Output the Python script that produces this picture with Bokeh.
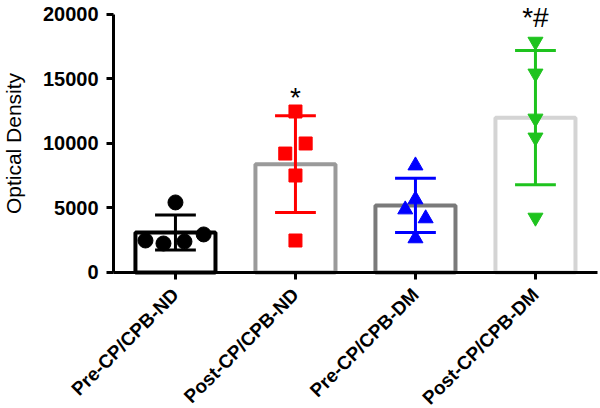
import numpy as np
from bokeh.plotting import figure
from bokeh.models import Range1d, FixedTicker, Label, CustomLabelingPolicy
from bokeh.embed import file_html
from bokeh.resources import INLINE

# ---- data ----
categories = ["Pre-CP/CPB-ND", "Post-CP/CPB-ND", "Pre-CP/CPB-DM", "Post-CP/CPB-DM"]
bar_means = [3100, 8400, 5200, 12000]
bar_sd = [1350, 3750, 2100, 5200]
pts_pre_nd = [5430, 2480, 2250, 2400, 2950]
pts_post_nd = [12480, 10000, 9220, 7520, 2480]
pts_pre_dm = [8290, 5660, 4880, 4190, 2640]
pts_post_dm = [17900, 15430, 11940, 10470, 4260]
jitter_pre_nd = [0.0, -0.25, -0.1, 0.075, 0.235]
jitter_post_nd = [0.0, 0.085, -0.085, 0.0, 0.0]
jitter_pre_dm = [0.0, 0.0, -0.085, 0.085, 0.0]
jitter_post_dm = [0.0, 0.0, 0.0, 0.0, 0.0]
significance = ["", "*", "", "*#"]
significance_y = [0, 13600, 0, 19750]
y_ticks = [0, 5000, 10000, 15000, 20000]
y_title = "Optical Density"

bar_colors = ["#000000", "#9a9a9a", "#7a7a7a", "#d4d4d4"]
pt_colors = ["#000000", "#ff0000", "#0000ff", "#1ec31e"]

FONT = "Liberation Sans"
Y_AXIS_X = -0.516          # where the value axis stands on the category scale
X_AXIS_END = 3.517
HIDE = "for (const i of indices) { indices.unset(i) } return indices"

p = figure(width=600, height=408, output_backend="svg", toolbar_location=None,
           x_range=Range1d(-1.458, 3.542), y_range=Range1d(-10543, 21085),
           x_axis_location="above", y_axis_location="right",
           min_border_left=0, min_border_right=0, min_border_top=0,
           min_border_bottom=0)
p.outline_line_color = None
p.grid.visible = False
p.background_fill_color = "white"
p.border_fill_color = "white"

xs = list(range(len(categories)))

# bars (outlined)
p.vbar(x=xs, top=bar_means, width=0.667, bottom=0, fill_color="white",
       line_color=bar_colors, line_width=4)

# error bars (mean +/- SD)
lower = [m - s for m, s in zip(bar_means, bar_sd)]
upper = [m + s for m, s in zip(bar_means, bar_sd)]
p.segment(x0=xs, x1=xs, y0=lower, y1=upper, line_color=pt_colors, line_width=3)
cap_x0 = [i - 0.17 for i in xs]
cap_x1 = [i + 0.17 for i in xs]
p.segment(x0=cap_x0, x1=cap_x1, y0=lower, y1=lower, line_color=pt_colors, line_width=3)
p.segment(x0=cap_x0, x1=cap_x1, y0=upper, y1=upper, line_color=pt_colors, line_width=3)

# points
p.scatter([0 + j for j in jitter_pre_nd], pts_pre_nd, marker="circle", size=15,
          fill_color=pt_colors[0], line_color=pt_colors[0])
p.scatter([1 + j for j in jitter_post_nd], pts_post_nd, marker="square", size=13,
          fill_color=pt_colors[1], line_color=pt_colors[1])
p.scatter([2 + j for j in jitter_pre_dm], pts_pre_dm, marker="triangle", size=15,
          fill_color=pt_colors[2], line_color=pt_colors[2])
p.scatter([3 + j for j in jitter_post_dm], pts_post_dm, marker="inverted_triangle", size=15,
          fill_color=pt_colors[3], line_color=pt_colors[3])

# significance marks
for i, s in enumerate(significance):
    if s:
        p.add_layout(Label(x=i, y=significance_y[i], text=s, text_align="center",
                           text_baseline="alphabetic", text_font=FONT,
                           text_font_size="28px", text_color="#000000"))


def style_axis(ax):
    ax.major_label_text_font_size = "0px"
    ax.major_label_standoff = 0
    ax.major_label_policy = CustomLabelingPolicy(code=HIDE)
    ax.minor_tick_in = 0
    ax.minor_tick_out = 0
    ax.minor_tick_line_color = None
    ax.major_tick_in = 7       # toward the plot side = outward from the drawn axis
    ax.major_tick_out = 0
    ax.major_tick_line_width = 3
    ax.axis_line_width = 3
    ax.axis_line_color = "#000000"
    ax.major_tick_line_color = "#000000"
    ax.axis_label = None
    ax.axis_label_standoff = 0


# category axis standing at y = 0
xa = p.xaxis[0]
xa.fixed_location = 0
xa.ticker = FixedTicker(ticks=xs)
xa.bounds = (Y_AXIS_X, X_AXIS_END)
style_axis(xa)
for i, c in enumerate(categories):
    p.add_layout(Label(x=i, y=0, text=c, angle=np.pi / 4, text_align="right",
                       text_baseline="middle", x_offset=0, y_offset=-19,
                       text_font=FONT, text_font_style="bold",
                       text_font_size="19px", text_color="#000000"))

# value axis
ya = p.yaxis[0]
ya.fixed_location = Y_AXIS_X
ya.ticker = FixedTicker(ticks=y_ticks)
ya.bounds = (0, 20000)
style_axis(ya)
for t in y_ticks:
    p.add_layout(Label(x=Y_AXIS_X, y=t, text=str(t), text_align="right",
                       text_baseline="middle", x_offset=-15, y_offset=0,
                       text_font=FONT, text_font_style="bold",
                       text_font_size="20px", text_color="#000000"))
p.add_layout(Label(x=Y_AXIS_X, y=(y_ticks[0] + y_ticks[-1]) / 2, text=y_title,
                   angle=np.pi / 2, text_align="center", text_baseline="middle",
                   x_offset=-100, y_offset=0, text_font=FONT,
                   text_font_size="21px", text_color="#000000"))

open("out.html", "w").write(file_html(p, INLINE))
